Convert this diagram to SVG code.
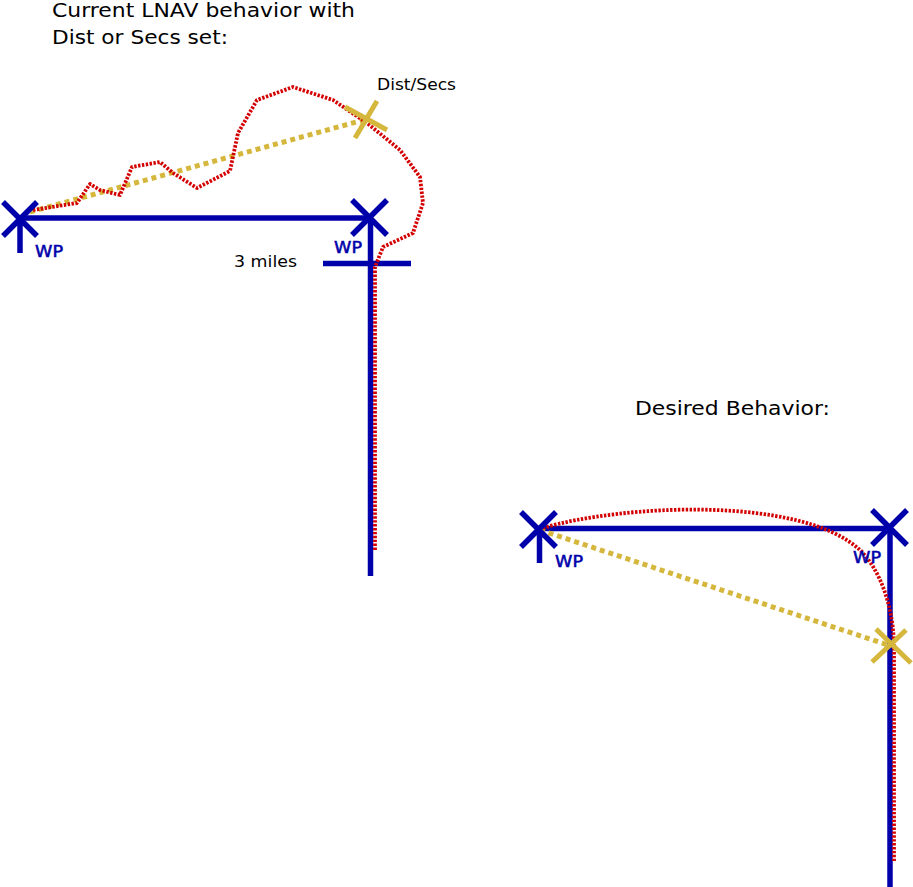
<svg xmlns="http://www.w3.org/2000/svg" width="913" height="887" viewBox="0 0 913 887">
<style>
.bl{stroke:#0000aa;stroke-width:5.5;fill:none}
.yl{stroke:#d4b73c;stroke-width:5;fill:none}
.yd{stroke:#d4b73c;stroke-width:5;fill:none;stroke-dasharray:5,4}
.rd{stroke:#d40000;stroke-width:3.8;fill:none;stroke-dasharray:2.4,1.5;stroke-linejoin:round}
.t{font-family:"DejaVu Sans",sans-serif;fill:#000}
.title{font-size:19.5px}
.lab{font-size:16.5px}
.wp{font-family:"DejaVu Sans",sans-serif;font-size:15.5px;fill:#0000aa;stroke:#0000aa;stroke-width:0.5}
</style>
<rect width="913" height="887" fill="#fff"/>
<g id="titles">
<text class="t title" x="52" y="17" textLength="303" lengthAdjust="spacingAndGlyphs">Current LNAV behavior with</text>
<text class="t title" x="52" y="44" textLength="176" lengthAdjust="spacingAndGlyphs">Dist or Secs set:</text>
<text class="t title" x="635" y="415" textLength="195" lengthAdjust="spacingAndGlyphs">Desired Behavior:</text>
</g>
<g id="connectors">
<path class="bl" d="M20 218 H370"/>
<path class="bl" d="M370.5 218 V576"/>
<path class="bl" d="M323 263.5 H411"/>
<path class="yd" d="M30 212 L367 119"/>
<path class="rd" d="M33 210 L77 203 L90 184 L100 190 L120 195 L132 167 L160 162 L173 173 L197 188 L230 171 L238 133 L257 100 L293 87 L333 100 L367 123 L400 150 L420 177 L423 203 L413 233 L383 247 L375 267 L375 550"/>
<path class="bl" d="M539 528.5 H890"/>
<path class="bl" d="M890 528 V887"/>
<path class="yd" d="M540 530 L891 646"/>
<path class="rd" d="M543 528 C620 505 800 495 860 550 C880 570 893 605 894 645 L894 862"/>
</g>
<g id="wp1">
<path class="bl" d="M3 202 L37 236 M3 236 L37 202 M20 219 V253"/>
<text class="wp" x="35" y="257" textLength="28" lengthAdjust="spacingAndGlyphs">WP</text>
</g>
<g id="wp2">
<path class="bl" d="M352 200 L387 235 M352 235 L387 200"/>
<text class="wp" x="334" y="253" textLength="28" lengthAdjust="spacingAndGlyphs">WP</text>
<text class="t lab" x="234" y="267" textLength="63" lengthAdjust="spacingAndGlyphs">3 miles</text>
</g>
<g id="distsecs">
<path class="yl" d="M355 138 L377 101 M345 107 L387 130"/>
<text class="t lab" x="377" y="90" textLength="79" lengthAdjust="spacingAndGlyphs">Dist/Secs</text>
</g>
<g id="wp3">
<path class="bl" d="M521 512 L556 547 M521 547 L556 512 M539.5 529 V563"/>
<text class="wp" x="555" y="567" textLength="28" lengthAdjust="spacingAndGlyphs">WP</text>
</g>
<g id="wp4">
<path class="bl" d="M872 510 L907 545 M872 545 L907 510"/>
<text class="wp" x="853" y="563" textLength="28" lengthAdjust="spacingAndGlyphs">WP</text>
</g>
<g id="target">
<path class="yl" d="M872 662 L906 630 M876 629 L911 663"/>
</g>
</svg>
